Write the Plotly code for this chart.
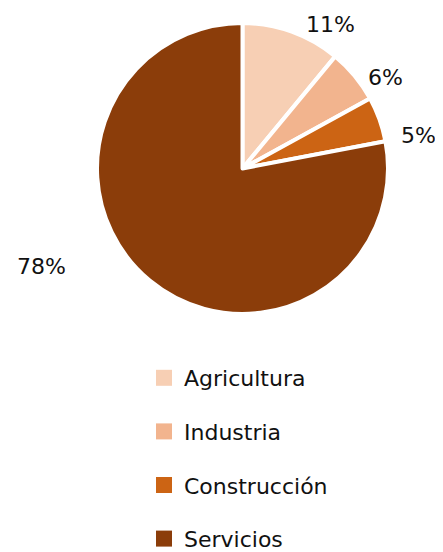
import plotly.graph_objects as go

labels = ["Agricultura", "Industria", "Construcción", "Servicios"]
values = [11, 6, 5, 78]
colors = ["#F7CFB4", "#F2B48E", "#CC6414", "#8B3D0A"]
label_text = [f"{v}%" for v in values]

W, H = 443, 552

# pie domain (pixels)
x0, x1, y0, y1 = 88.5, 380.5, 15, 306

fig = go.Figure(go.Pie(
    labels=labels, values=values, sort=False, direction="clockwise", rotation=0,
    marker=dict(colors=colors, line=dict(color="white", width=4)),
    textinfo="none", hoverinfo="label+percent", showlegend=False,
    domain=dict(x=[x0 / W, x1 / W], y=[1 - y1 / H, 1 - y0 / H]),
))

# legend entries
for lab, col in zip(labels, colors):
    fig.add_trace(go.Scatter(x=[None], y=[None], mode="markers", name=lab,
                             legendgroup=lab,
                             marker=dict(symbol="square", size=18, color=col)))

label_pos = [(322, 16), (377, 69), (410, 127), (33, 258)]
for t, (px, py) in zip(label_text, label_pos):
    fig.add_annotation(x=px / W, y=1 - py / H, xref="paper", yref="paper",
                       xanchor="center", yanchor="middle",
                       text=t, showarrow=False, font=dict(size=22, color="#111"))

fig.update_layout(
    width=W, height=H, margin=dict(l=0, r=0, t=0, b=0),
    paper_bgcolor="white", plot_bgcolor="white",
    font=dict(family="DejaVu Sans", color="#111"),
    xaxis=dict(visible=False), yaxis=dict(visible=False),
    legend=dict(x=136 / W, y=0, xanchor="left", yanchor="bottom",
                font=dict(size=22), itemwidth=30, tracegroupgap=22,
                itemsizing="trace"),
)
fig.write_html("out.html")
